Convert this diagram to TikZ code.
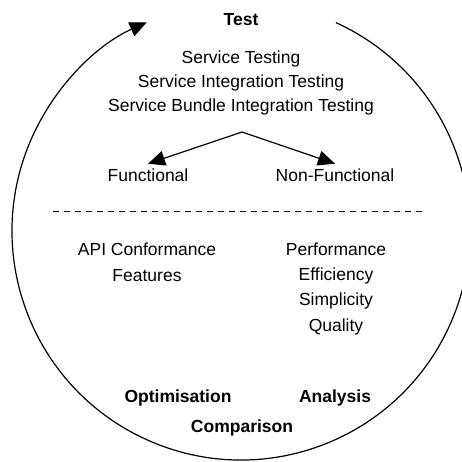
\documentclass[tikz,border=0pt]{standalone}
\usepackage{fontspec}
\setmainfont{Liberation Sans}
\usetikzlibrary{arrows.meta, calc}

\begin{document}
\begin{tikzpicture}[
    x=1pt, y=1pt,
    line width=1.2pt,
    txt/.style={
        font=\fontsize{17.5}{24}\selectfont,
        align=center,
        anchor=base,
        inner sep=4pt
    },
    stage/.style={txt, font=\fontsize{17.5}{24}\selectfont\bfseries},
    arrow/.style={-{Triangle[length=17pt, width=15pt]}}
]
\useasboundingbox (0,0) rectangle (462,-461);

% Nodes (multi-line nodes sit on the baseline of their last line)
\node[stage] (test)  at (241,-25)  {Test};
\node[txt]   (kinds) at (241,-111) {Service Testing \\ Service Integration Testing \\ Service Bundle Integration Testing};
\node[txt]   (func)  at (148,-181) {Functional};
\node[txt]   (nfunc) at (335,-181) {Non-Functional};
\node[txt, font=\fontsize{17.5}{26}\selectfont] (fprops)  at (147,-281) {API Conformance \\ Features};
\node[txt, font=\fontsize{17.5}{25.3}\selectfont] (nfprops) at (336,-331) {Performance \\ Efficiency \\ Simplicity \\ Quality};
\node[stage] (opt)   at (178,-402) {Optimisation};
\node[stage] (ana)   at (335,-402) {Analysis};
\node[stage] (comp)  at (242,-432) {Comparison};

\coordinate (fork) at (242,-132);
\coordinate (sepL) at (53,-211);
\coordinate (sepR) at (423,-211);
\coordinate (loop) at ($(241,-231)+(65.5:229)$);

% Arrows
\draw[arrow] (fork) -- (func.north);
\draw[arrow] (fork) -- (nfunc.north);
\draw[arrow] (loop) arc[start angle=65.5, end angle=-245.7, radius=229];

% Separator
\draw[line width=1pt, dash pattern=on 6pt off 5pt] (sepL) -- (sepR);

\end{tikzpicture}
\end{document}
